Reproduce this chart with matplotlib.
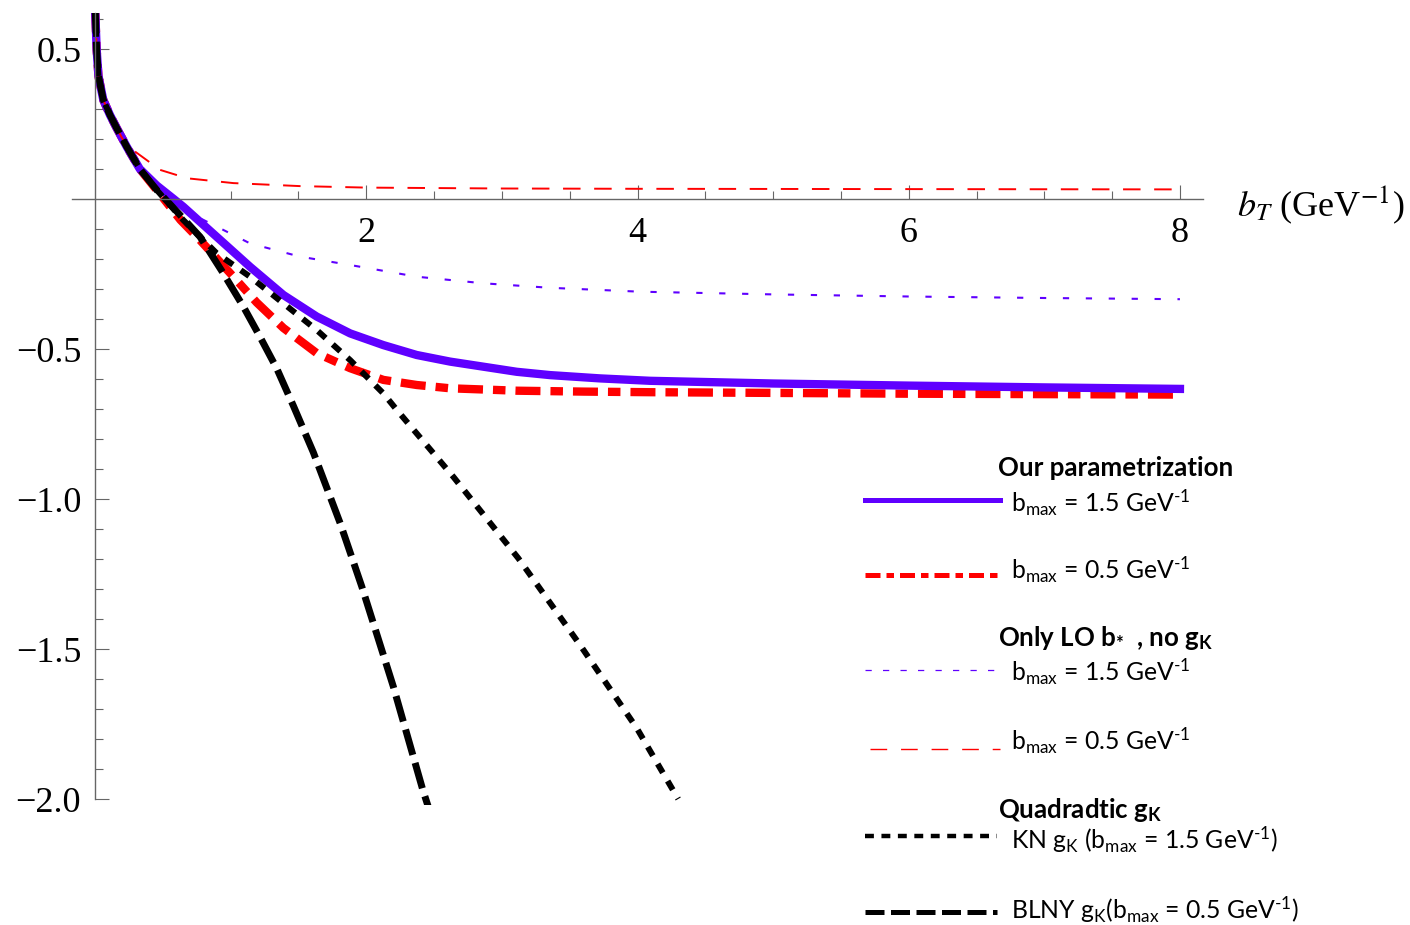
import numpy as np
import matplotlib
matplotlib.use('Agg')
import matplotlib.pyplot as plt
from matplotlib.lines import Line2D

plt.rcParams['mathtext.fontset'] = 'custom'
plt.rcParams['mathtext.rm'] = 'Lato'
plt.rcParams['mathtext.it'] = 'Lato:italic'
plt.rcParams['mathtext.bf'] = 'Lato:bold'

# shared small-b part of all curves
bt_small = [0.0, 0.012, 0.025, 0.061, 0.11, 0.16, 0.234, 0.33]
val_small = [0.64, 0.497, 0.41, 0.33, 0.28, 0.236, 0.174, 0.10]

# our parametrization, bmax = 1.5 and 0.5
ours15_b = bt_small + [0.455, 0.58, 0.651, 0.897, 1.143, 1.389, 1.635, 1.881, 2.126, 2.372,
                       2.618, 2.864, 3.11, 3.355, 3.724, 4.093, 5.0, 6.0, 7.0, 8.0]
ours15 = val_small + [0.045, 0.0, -0.026, -0.126, -0.226, -0.32, -0.392, -0.448, -0.487, -0.52,
                      -0.542, -0.559, -0.576, -0.587, -0.598, -0.606, -0.615, -0.622, -0.628, -0.633]
ours05_b = bt_small + [0.455, 0.63, 0.774, 1.02, 1.192, 1.389, 1.635, 1.881, 2.126, 2.372,
                       2.618, 3.11, 3.6, 4.093, 6.0, 8.0]
ours05 = val_small + [0.03, -0.07, -0.137, -0.259, -0.345, -0.43, -0.514, -0.564, -0.603, -0.62,
                      -0.631, -0.639, -0.642, -0.644, -0.649, -0.652]

# only LO b*, no gK
lo15_b = bt_small + [0.455, 0.65, 0.774, 1.143, 1.51, 1.881, 2.372, 2.864, 3.355, 4.02,
                     5.0, 6.0, 7.0, 8.0]
lo15 = val_small + [0.035, -0.025, -0.064, -0.148, -0.192, -0.22, -0.259, -0.281, -0.296, -0.309,
                    -0.318, -0.325, -0.33, -0.334]
lo05_b = bt_small[:7] + [0.28, 0.48, 0.68, 1.02, 1.51, 2.0, 3.0, 4.0, 6.0, 8.0]
lo05 = val_small[:7] + [0.163, 0.097, 0.069, 0.053, 0.043, 0.038, 0.035, 0.034, 0.033, 0.032]

# quadratic gK
kn_b = bt_small + [0.455, 0.65, 0.897, 1.143, 1.389, 1.635, 1.881, 2.126, 2.225, 2.642,
                   3.122, 3.577, 3.995, 4.30]
kn = val_small + [0.03, -0.07, -0.181, -0.259, -0.348, -0.437, -0.537, -0.648, -0.703, -0.926,
                  -1.198, -1.487, -1.764, -2.0]
blny_b = bt_small + [0.455, 0.62, 0.774, 0.946, 1.094, 1.217, 1.34, 1.463, 1.61, 1.807,
                     1.967, 2.2, 2.417, 2.46]
blny = val_small + [0.03, -0.05, -0.126, -0.248, -0.359, -0.46, -0.565, -0.69, -0.845, -1.08,
                    -1.292, -1.626, -1.97, -2.03]

xticks = [2, 4, 6, 8]
xticklabels = ['2', '4', '6', '8']
yticks = [-2.0, -1.5, -1.0, -0.5, 0.5]
yticklabels = ['\u22122.0', '\u22121.5', '\u22121.0', '\u22120.5', '0.5']

BLUE = '#5F00FF'
RED = '#FF0000'
AXC = '#666666'
W, H = 1410, 925

fig = plt.figure(figsize=(W / 100, H / 100), dpi=100)
ax = fig.add_axes([72 / W, (H - 805) / H, (1203 - 72) / W, (805 - 13) / H])
ax.set_xlim(-0.17, 8.17)
ax.set_ylim(-2.02, 0.62)

ax.plot(ours05_b, ours05, color=RED, lw=6, dashes=(3.0, 1.2, 1.5, 1.2), solid_capstyle='butt')
ax.plot(ours15_b, ours15, color=BLUE, lw=6)
ax.plot(lo15_b, lo15, color=BLUE, lw=1.5, dashes=(3, 8))
ax.plot(lo05_b, lo05, color=RED, lw=1.4, dashes=(9, 7))
ax.plot(kn_b, kn, color='black', lw=4.3, dashes=(1.7, 1.6))
ax.plot(blny_b, blny, color='black', lw=5, dashes=(3.8, 1.2))

for side in ['top', 'right']:
    ax.spines[side].set_visible(False)
ax.spines['left'].set_position(('data', 0))
ax.spines['bottom'].set_position(('data', 0))
ax.spines['left'].set_bounds(-2.0, 0.62)
for side in ['left', 'bottom']:
    ax.spines[side].set_color(AXC)
    ax.spines[side].set_linewidth(1.0)

ax.set_xticks(xticks, xticklabels)
ax.set_xticks([v for v in np.arange(0.5, 8.0, 0.5) if v not in xticks], minor=True)
ax.set_yticks(yticks, yticklabels)
ax.set_yticks([v for v in np.round(np.arange(-1.9, 0.65, 0.1), 1)
               if v not in yticks and v != 0], minor=True)
ax.tick_params(which='both', direction='in', color=AXC, width=0.8)
ax.tick_params(which='major', length=10)
ax.tick_params(which='minor', length=5.5)
ax.tick_params(axis='x', pad=13)
ax.tick_params(axis='y', pad=10)
for lab in ax.get_xticklabels() + ax.get_yticklabels():
    lab.set_fontfamily('Liberation Serif')
    lab.set_fontsize(26)

fig.text(1237 / W, 1 - 205 / H, r'$b_T$ (GeV$^{-1}$)', family='Liberation Serif',
         math_fontfamily='stix', fontsize=26, ha='left', va='center')


# legend drawn by hand
def px(x, y):
    return x / W, 1 - y / H


def sample(y, x0, x1, **kw):
    (fx0, fy), (fx1, _) = px(x0, y), px(x1, y)
    fig.add_artist(Line2D([fx0, fx1], [fy, fy], transform=fig.transFigure, **kw))


def label(x, y, s, bold=False):
    fx, fy = px(x, y)
    fig.text(fx, fy, s, family='Lato', fontsize=18.6 if bold else 17.8, ha='left',
             va='center', fontweight='bold' if bold else 'normal')


bmax15 = r'b$_{\mathrm{max}}$ = 1.5 GeV$^{\text{-1}}$'
bmax05 = r'b$_{\mathrm{max}}$ = 0.5 GeV$^{\text{-1}}$'

label(998, 468, 'Our parametrization', bold=True)
sample(500, 865, 1000, color=BLUE, lw=3.6)
label(1011, 503, bmax15)
sample(575, 865, 997, color=RED, lw=3.6, dashes=(3.0, 1.2, 1.5, 1.2))
label(1011, 570, bmax05)

label(998, 638, r'Only LO b$_{\mathbf{*}}$  , no g$_{\mathbf{K}}$', bold=True)
sample(670, 865, 1000, color=BLUE, lw=0.9, dashes=(5, 9))
label(1011, 672, bmax15)
sample(749, 870, 1000, color=RED, lw=1.0, dashes=(12, 10))
label(1011, 741, bmax05)

label(998, 810, r'Quadradtic g$_{\mathbf{K}}$', bold=True)
sample(836, 865, 997, color='black', lw=3.2, dashes=(2.0, 1.7))
label(1011, 840, r'KN g$_{\mathrm{K}}$ (b$_{\mathrm{max}}$ = 1.5 GeV$^{\text{-1}}$)')
sample(912, 865, 997, color='black', lw=3.6, dashes=(3.8, 1.3))
label(1011, 910, r'BLNY g$_{\mathrm{K}}$(b$_{\mathrm{max}}$ = 0.5 GeV$^{\text{-1}}$)')

fig.savefig('out.png', dpi=100)
